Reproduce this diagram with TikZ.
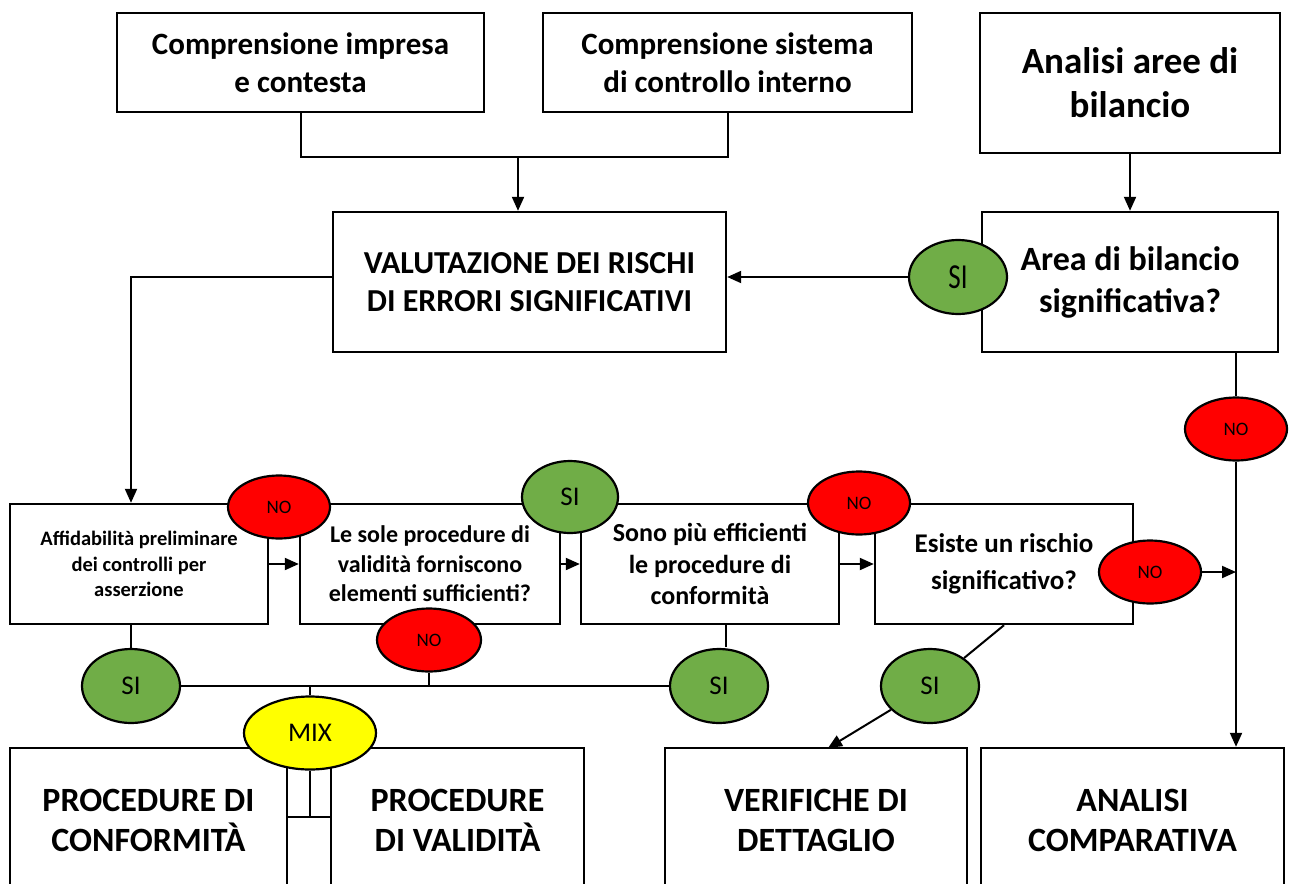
\documentclass[tikz,border=0pt]{standalone}
\usepackage{fontspec}
\setmainfont{Carlito}
\usetikzlibrary{arrows.meta,shapes.geometric}
\definecolor{sigreen}{HTML}{70AD47}
\definecolor{nored}{HTML}{FF0000}
\definecolor{mixyellow}{HTML}{FFFF00}
\newcommand{\fsz}[2]{\fontsize{#1}{#2}\selectfont}

\begin{document}
\begin{tikzpicture}[x=1pt,y=-1pt,
  box/.style={draw, line width=2.4pt, fill=white, align=center, inner sep=0pt},
  oval/.style={ellipse, draw, line width=2.2pt, inner sep=0pt, text=black},
  si/.style={oval, fill=sigreen, minimum width=98pt, minimum height=74pt, font=\fsz{27}{32}},
  no/.style={oval, fill=nored, minimum width=102pt, minimum height=63pt, font=\fsz{19}{23}},
  mixoval/.style={oval, fill=mixyellow, minimum width=132pt, minimum height=73pt, font=\fsz{27}{32}},
  link/.style={line width=2pt},
  flow/.style={link, -{Triangle[length=14pt,width=12pt]}}
]
\useasboundingbox (0,0) rectangle (1289,883);
\clip (0,0) rectangle (1289,883);

% top row
\node[box, minimum width=367pt, minimum height=99pt, font=\bfseries\fsz{31}{38}] (imp) at (300.5,62.5) {Comprensione impresa\\e contesta};
\node[box, minimum width=369pt, minimum height=99pt, font=\bfseries\fsz{31}{38}] (ctl) at (727.5,62.5) {Comprensione sistema\\di controllo interno};
\node[box, minimum width=300pt, minimum height=140pt, font=\bfseries\fsz{37}{44}] (aree) at (1130,83) {Analisi aree di\\bilancio};

% second row
\node[box, minimum width=393pt, minimum height=140pt, font=\bfseries\fsz{32}{38}] (val) at (529.5,282) {VALUTAZIONE DEI RISCHI\\DI ERRORI SIGNIFICATIVI};
\node[box, minimum width=296pt, minimum height=140pt, font=\bfseries\fsz{34}{42}] (area) at (1130,282) {Area di bilancio\\significativa?};

% decision row
\node[box, minimum width=258pt, minimum height=120pt, font=\bfseries\fsz{20.5}{25.5}] (aff) at (139,564) {Affidabilità preliminare\\dei controlli per\\asserzione};
\node[box, minimum width=260pt, minimum height=120pt, font=\bfseries\fsz{24}{29.5}] (sole) at (430,564) {Le sole procedure di\\validità forniscono\\elementi sufficienti?};
\node[box, minimum width=258pt, minimum height=120pt, font=\bfseries\fsz{26}{31.5}] (eff) at (710,564) {Sono più efficienti\\le procedure di\\conformità};
\node[box, minimum width=258pt, minimum height=120pt, font=\bfseries\fsz{27}{37}] (ris) at (1004,564) {Esiste un rischio\\significativo?};

% bottom row
\node[box, minimum width=277pt, minimum height=144pt, font=\bfseries\fsz{34}{40}] (pc) at (148.5,820) {PROCEDURE DI\\CONFORMITÀ};
\node[box, minimum width=253pt, minimum height=144pt, font=\bfseries\fsz{34}{40}] (pv) at (457.5,820) {PROCEDURE\\DI VALIDITÀ};
\node[box, minimum width=302pt, minimum height=144pt, font=\bfseries\fsz{34}{40}] (vd) at (816,820) {VERIFICHE DI\\DETTAGLIO};
\node[box, minimum width=303pt, minimum height=144pt, font=\bfseries\fsz{34}{40}] (ac) at (1132.5,820) {ANALISI\\COMPARATIVA};

% answer ovals
\node[si] (s1) at (958,277) {\scalebox{1}[1.3]{SI}};
\node[no] (n1) at (1236,429) {NO};
\node[no] (n2) at (279,507) {NO};
\node[si, minimum width=96pt, minimum height=72pt] (s2) at (570,497) {SI};
\node[no] (n3) at (859,503) {NO};
\node[no] (n4) at (1150,572) {NO};
\node[no, minimum width=104pt] (n5) at (429,640) {NO};
\node[si] (s3) at (131,686) {SI};
\node[si] (s4) at (719,686) {SI};
\node[si] (s5) at (930,686) {SI};
\node[mixoval] (mix) at (310,733) {MIX};

% connectors
\coordinate (j1) at (518,157);
\draw[link] (imp.south) |- (j1) -| (ctl.south);
\draw[flow] (j1) -- (j1 |- val.north);
\draw[flow] (aree.south) -- (area.north);
\draw[flow] (s1.west) -- (s1.west -| val.east);
\draw[flow] (val.west |- s1) -| (s3 |- aff.north);
\draw[link] (area.south -| n1) -- (n1.north);
\draw[flow] (n1.south) -- (n1.south |- ac.north);

\draw[flow] (aff.east) -- (sole.west);
\draw[flow] (sole.east) -- (eff.west);
\draw[flow] (eff.east) -- (ris.west);
\draw[flow] (n4.east) -- (n4.east -| n1.south);

\draw[link] (s3 |- aff.south) -- (s3.north);
\draw[link] (s3.east) -- (s4.west);
\draw[link] ([xshift=7pt]eff.south -| s4) -- ([xshift=7pt,yshift=0.5pt]s4.north);
\draw[link] (n5.south) -- (n5.south |- s3.east);
\draw[link] (mix.north |- s3.east) -- (mix.north);

\coordinate (fork) at (310,817);
\draw[link] (mix.south) -- (fork);
\draw[link] (fork -| pc.east) -- (fork -| pv.west);

\coordinate (vdin) at (828,748);
\draw[link] (ris.south) -- (s5);
\draw[flow] (s5) -- (vdin);
\end{tikzpicture}
\end{document}
